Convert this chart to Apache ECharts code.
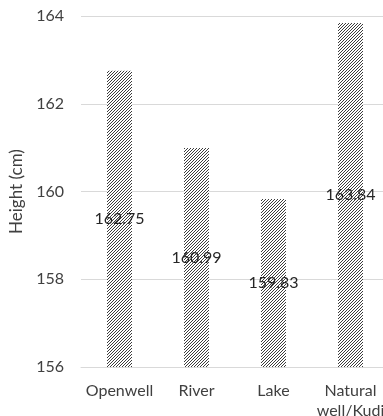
<!DOCTYPE html>
<html>
<head>
<meta charset="utf-8">
<script src="https://cdn.jsdelivr.net/npm/echarts@6/dist/echarts.min.js"></script>
<style>
html,body{margin:0;padding:0;background:#fff;}
#chart{width:383px;height:416px;}
</style>
</head>
<body>
<div id="chart"></div>
<script>
// Mean height by source of drinking water
var categories = ['Openwell', 'River', 'Lake', 'Natural\nwell/Kudi'];
var heights = [162.75, 160.99, 159.83, 163.84];
var yTicks = [156, 158, 160, 162, 164];

// Diagonal hatch tile for the bars
function hatchTile() {
  var c = document.createElement('canvas');
  c.width = 3; c.height = 3;
  var ctx = c.getContext('2d');
  ctx.fillStyle = '#ffffff';
  ctx.fillRect(0, 0, 3, 3);
  ctx.fillStyle = '#3c3c3c';
  ctx.fillRect(2, 0, 1, 1);
  ctx.fillRect(1, 1, 1, 1);
  ctx.fillRect(0, 2, 1, 1);
  return c;
}

var font = 'Lato, "Open Sans", sans-serif';
var chart = echarts.init(document.getElementById('chart'), null, {renderer: 'canvas'});
chart.setOption({
  animation: false,
  grid: {left: 81, right: -6, top: 16, bottom: 49, containLabel: false, outerBoundsMode: 'none'},
  xAxis: {
    type: 'category',
    data: categories,
    axisLine: {show: true, lineStyle: {color: '#d9d9d9', width: 1}},
    axisTick: {show: false},
    axisLabel: {
      interval: 0,
      hideOverlap: false,
      color: '#404040',
      fontFamily: font,
      fontSize: 16,
      margin: 14,
      lineHeight: 20
    }
  },
  yAxis: {
    type: 'value',
    min: yTicks[0],
    max: yTicks[yTicks.length - 1],
    interval: 2,
    name: 'Height (cm)',
    nameLocation: 'middle',
    nameGap: 55,
    nameTextStyle: {color: '#404040', fontFamily: font, fontSize: 17},
    axisLine: {show: false},
    axisTick: {show: false},
    axisLabel: {color: '#404040', fontFamily: font, fontSize: 16, margin: 17},
    splitLine: {lineStyle: {color: '#d9d9d9', width: 1}}
  },
  series: [{
    type: 'bar',
    data: heights,
    barWidth: 25,
    itemStyle: {color: {image: hatchTile(), repeat: 'repeat'}},
    label: {
      show: true,
      position: 'inside',
      color: '#262626',
      fontFamily: font,
      fontSize: 16,
      formatter: function (p) { return p.value.toFixed(2); }
    }
  }]
});
</script>
</body>
</html>
